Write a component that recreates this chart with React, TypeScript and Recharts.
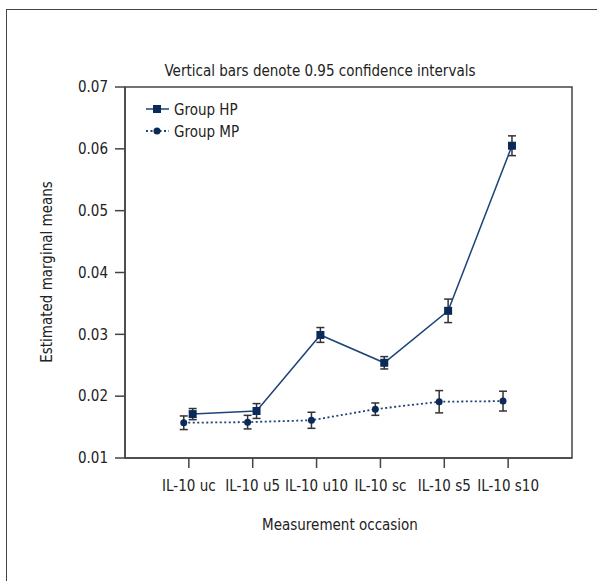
import React from "react";
import {
  LineChart,
  Line,
  XAxis,
  YAxis,
  ErrorBar,
  Legend,
  ReferenceArea,
} from "recharts";

const categories = ["IL-10 uc", "IL-10 u5", "IL-10 u10", "IL-10 sc", "IL-10 s5", "IL-10 s10"];
const hpMeans = [0.0171, 0.0176, 0.0299, 0.0254, 0.0338, 0.0605];
const hpErr = [0.0009, 0.0012, 0.0012, 0.001, 0.0019, 0.0016];
const mpMeans = [0.0157, 0.0158, 0.0161, 0.0179, 0.0191, 0.0192];
const mpErr = [0.0011, 0.0011, 0.0013, 0.001, 0.0018, 0.0016];
const yTicks = [0.01, 0.02, 0.03, 0.04, 0.05, 0.06, 0.07];

// small horizontal dodge so the two groups don't sit on top of each other
const hpShift = 0.06;
const mpShift = -0.08;

const hpData = categories.map((c, i) => ({ x: i + hpShift, mean: hpMeans[i], err: hpErr[i] }));
const mpData = categories.map((c, i) => ({ x: i + mpShift, mean: mpMeans[i], err: mpErr[i] }));

const FONT = '"DejaVu Sans", sans-serif';
const STRETCH = "condensed";
const FS = 15;
const TEXT = "#222";
const MARKER = "#0b2a5a";
const LINE = "#1d4478";

const SquareDot = (props: any) => {
  const { cx, cy, index } = props;
  if (cx == null || cy == null) return null;
  return <rect key={`hp-${index}`} x={cx - 4} y={cy - 4} width={8} height={8} fill={MARKER} />;
};

const CircleDot = (props: any) => {
  const { cx, cy, index } = props;
  if (cx == null || cy == null) return null;
  return <circle key={`mp-${index}`} cx={cx} cy={cy} r={3.5} fill={MARKER} />;
};

const LegendBox = () => (
  <svg width={110} height={46} style={{ fontFamily: FONT, fontStretch: STRETCH }}>
    <line x1={2} y1={11} x2={25} y2={11} stroke={LINE} strokeWidth={1.5} />
    <rect x={9} y={7} width={8} height={8} fill={MARKER} />
    <text x={30} y={17} fontSize={FS} fill={TEXT}>Group HP</text>
    <line x1={2} y1={33} x2={25} y2={33} stroke={LINE} strokeWidth={1.8} strokeDasharray="2 2.5" />
    <circle cx={13} cy={33} r={3.5} fill={MARKER} />
    <text x={30} y={39} fontSize={FS} fill={TEXT}>Group MP</text>
  </svg>
);

const tickStyle = { fontSize: FS, fill: TEXT, fontFamily: FONT, fontStretch: STRETCH };

export default function App() {
  return (
    <div
      style={{
        position: "absolute",
        left: 0,
        top: 0,
        width: 597,
        height: 581,
        overflow: "hidden",
        background: "#fff",
        fontFamily: FONT,
        fontStretch: STRETCH,
      }}
    >
      <div
        style={{
          position: "absolute",
          left: 6,
          top: 9,
          width: 640,
          height: 640,
          border: "1.5px solid #444",
          boxSizing: "border-box",
        }}
      />
      <div style={{ position: "absolute", left: 0, top: 0 }}>
        <LineChart width={597} height={581} margin={{ top: 87, right: 25, bottom: 83, left: 0 }}>
          <XAxis
            type="number"
            dataKey="x"
            domain={[-1, 6]}
            ticks={[0, 1, 2, 3, 4, 5]}
            interval={0}
            tickFormatter={(v: number) => categories[v] ?? ""}
            allowDataOverflow
            height={40}
            tickSize={10}
            tickMargin={12}
            stroke="#444"
            strokeWidth={1.5}
            tick={tickStyle}
          />
          <YAxis
            type="number"
            domain={[0.01, 0.07]}
            ticks={yTicks}
            interval={0}
            tickFormatter={(v: number) => v.toFixed(2)}
            width={125}
            tickSize={10}
            tickMargin={7}
            stroke="#444"
            strokeWidth={1.5}
            tick={tickStyle}
          />
          <ReferenceArea x1={-1} x2={6} y1={0.01} y2={0.07} fill="none" stroke="#444" strokeWidth={1.5} />
          <Legend
            layout="horizontal"
            verticalAlign="middle"
            align="center"
            content={<LegendBox />}
            wrapperStyle={{ top: 98, left: 144, width: 110, height: 46 }}
          />
          <Line
            data={hpData}
            dataKey="mean"
            type="linear"
            stroke={LINE}
            strokeWidth={1.5}
            dot={SquareDot}
            activeDot={false}
            isAnimationActive={false}
          >
            <ErrorBar dataKey="err" direction="y" width={4} stroke="#333" strokeWidth={1.5} />
          </Line>
          <Line
            data={mpData}
            dataKey="mean"
            type="linear"
            stroke={LINE}
            strokeWidth={1.8}
            strokeDasharray="2 2.5"
            dot={CircleDot}
            activeDot={false}
            isAnimationActive={false}
          >
            <ErrorBar dataKey="err" direction="y" width={4} stroke="#333" strokeWidth={1.5} />
          </Line>
        </LineChart>
      </div>
      <svg
        width={597}
        height={581}
        style={{ position: "absolute", left: 0, top: 0, pointerEvents: "none" }}
      >
        <text x={320} y={76} textAnchor="middle" fontSize={FS} fill={TEXT}>
          Vertical bars denote 0.95 confidence intervals
        </text>
        <text x={340} y={530} textAnchor="middle" fontSize={FS} fill={TEXT}>
          Measurement occasion
        </text>
        <text
          x={52}
          y={272}
          textAnchor="middle"
          fontSize={FS}
          fill={TEXT}
          transform="rotate(-90 52 272)"
        >
          Estimated marginal means
        </text>
      </svg>
    </div>
  );
}
